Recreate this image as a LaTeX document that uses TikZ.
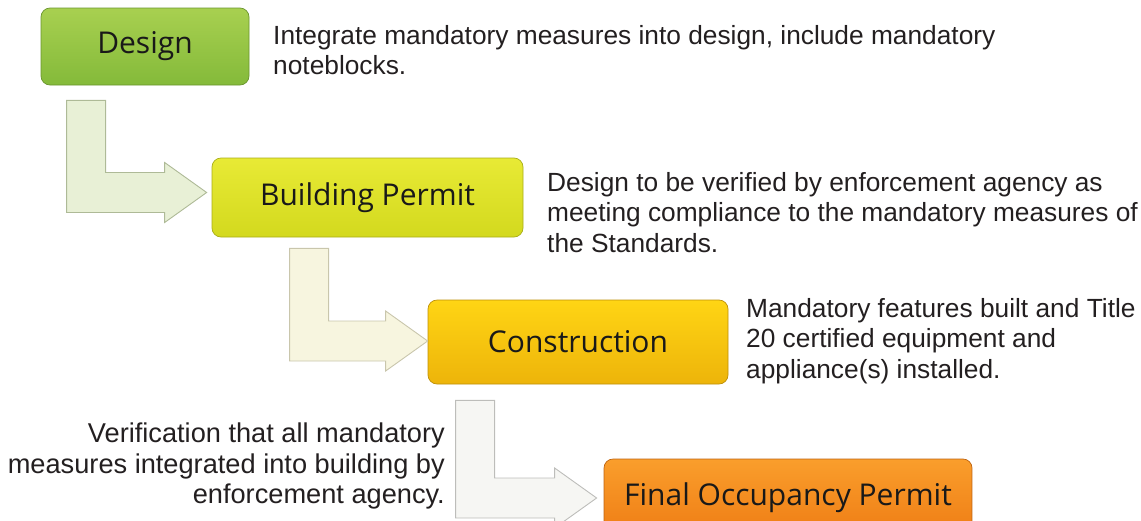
\documentclass[tikz,border=0pt]{standalone}
\usepackage{fontspec}
\setmainfont{Liberation Sans}
\newfontfamily\stagefont{Open Sans}
\usetikzlibrary{calc}

\begin{document}
\begin{tikzpicture}[x=1pt,y=-1pt]
\definecolor{stGreenTop}{HTML}{A8D050}
\definecolor{stGreenBot}{HTML}{84BA3A}
\definecolor{stLimeTop}{HTML}{E8EA35}
\definecolor{stLimeBot}{HTML}{D3D91E}
\definecolor{stGoldTop}{HTML}{FFD514}
\definecolor{stGoldBot}{HTML}{EDB40A}
\definecolor{stOrangeTop}{HTML}{FA9E2C}
\definecolor{stOrangeBot}{HTML}{EE7C14}
\definecolor{turnGreen}{HTML}{E8F0D6}
\definecolor{turnGreenLine}{HTML}{AEBA97}
\definecolor{turnYellow}{HTML}{F7F5DF}
\definecolor{turnYellowLine}{HTML}{C9C6AC}
\definecolor{turnGrey}{HTML}{F6F6F3}
\definecolor{turnGreyLine}{HTML}{BDBDBA}
\definecolor{noteText}{HTML}{231F20}
\def\barw{39}
\def\headl{42}

\tikzset{
	stage/.style n args={2}{rounded corners=9pt,top color=#1,bottom color=#2,
		draw=#2!80!black,line width=0.7pt,inner sep=0pt,
		font=\stagefont\fontsize{30}{36}\selectfont,text=black!90},
	note/.style={inner sep=0pt,align=left,text=noteText,
		font=\fontsize{26.3}{30.5}\selectfont},
}

\useasboundingbox (0,0) rectangle (1141,520);
\clip (0,0) rectangle (1141,520);

% stages
\node[stage={stGreenTop}{stGreenBot},minimum width=208,minimum height=77]
	(design) at (145,46.5) {Design};
\node[stage={stLimeTop}{stLimeBot},minimum width=311,minimum height=79]
	(bp) at (367.5,197.5) {Building Permit};
\node[stage={stGoldTop}{stGoldBot},minimum width=300,minimum height=84]
	(cons) at (578,342) {Construction};
\node[stage={stOrangeTop}{stOrangeBot},minimum width=368,minimum height=78]
	(final) at (788,498) {Final Occupancy Permit};

% notes
\node[note,anchor=north west] (n1) at (273,25)
	{Integrate mandatory measures into design, include mandatory\\noteblocks.};
\node[note,anchor=north west] (n2) at (547,172)
	{Design to be verified by enforcement agency as\\meeting compliance to the mandatory measures of\\the Standards.};
\node[note,anchor=north west] (n3) at (746,298)
	{Mandatory features built and Title\\20 certified equipment and\\appliance(s) installed.};
\node[note,anchor=north east,align=right,font=\fontsize{27.2}{30.5}\selectfont]
	(n4) at (445,423)
	{Verification that all mandatory\\measures integrated into building by\\enforcement agency.};

% turning arrows between stages
\foreach \src/\dst/\dx/\dy/\tx/\ty/\fc/\dc in {
	design/bp/26/15/-5/-5/turnGreen/turnGreenLine,
	bp/cons/78/11/0/-1/turnYellow/turnYellowLine,
	cons/final/28/16/-7/0/turnGrey/turnGreyLine%
} {
	\coordinate (top) at ($(\src.south west)+(\dx,\dy)$);
	\coordinate (tip) at ($(\dst.west)+(\tx,\ty)$);
	\path[fill=\fc,draw=\dc,line width=0.9pt]
		(top) -- ++(\barw,0) |- ($(tip)+(-\headl,-20)$) -- ++(0,-10)
		-- (tip) -- ++(-\headl,30) -- ++(0,-10) -| (top) -- cycle;
}
\end{tikzpicture}
\end{document}
